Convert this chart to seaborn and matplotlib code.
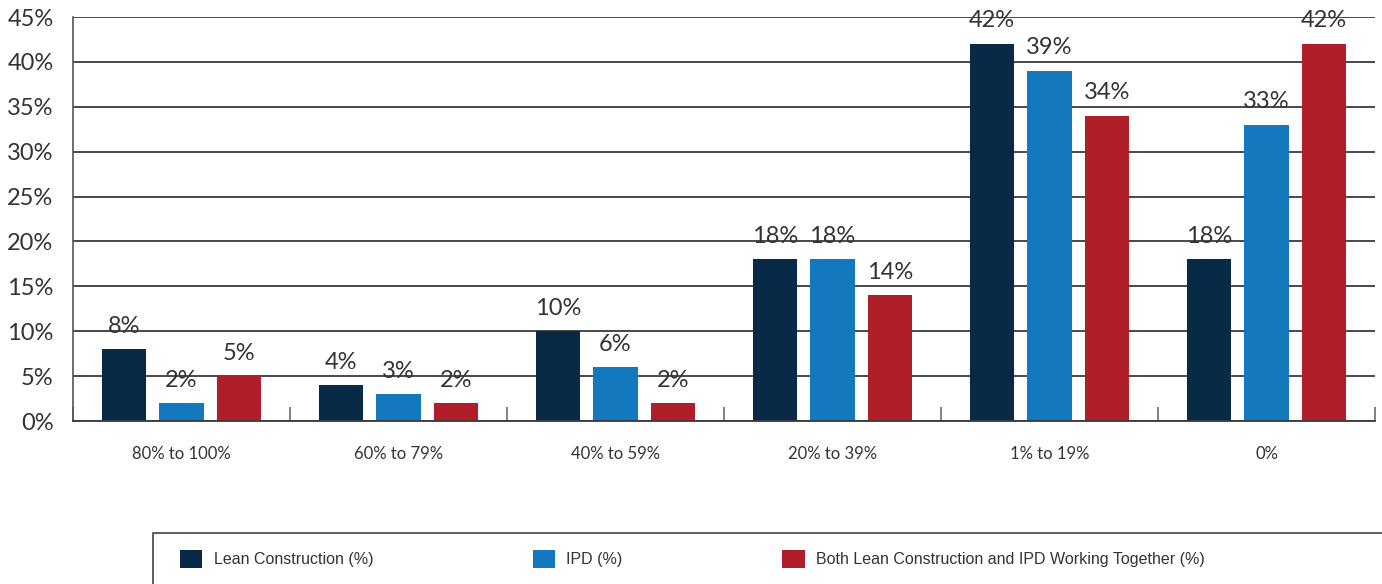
import matplotlib
matplotlib.use("Agg")
import matplotlib.pyplot as plt
from matplotlib.patches import Patch, Rectangle
import seaborn as sns
import pandas as pd
import numpy as np

categories = ["80% to 100%", "60% to 79%", "40% to 59%", "20% to 39%", "1% to 19%", "0%"]
series_names = ["Lean Construction (%)", "IPD (%)", "Both Lean Construction and IPD Working Together (%)"]
lean = [8, 4, 10, 18, 42, 18]
ipd = [2, 3, 6, 18, 39, 33]
both = [5, 2, 2, 14, 34, 42]
y_ticks = [0, 5, 10, 15, 20, 25, 30, 35, 40, 45]

colors = ["#082a47", "#1478be", "#b01f29"]

sns.set_theme(style="white")
plt.rcParams["font.family"] = ["Lato", "DejaVu Sans"]

rows = []
for name, vals in zip(series_names, [lean, ipd, both]):
    for c, v in zip(categories, vals):
        rows.append({"category": c, "series": name, "value": v})
df = pd.DataFrame(rows)

W, H = 1382, 584
fig = plt.figure(figsize=(W / 100, H / 100), dpi=100)
ax = fig.add_axes([73 / W, 1 - 421 / H, (1375 - 73) / W, (421 - 17) / H])

sns.barplot(data=df, x="category", y="value", hue="series", order=categories,
            hue_order=series_names, palette=colors, width=0.795, gap=0.234,
            saturation=1, linewidth=0, edgecolor="none", ax=ax, legend=False)

for container in ax.containers:
    ax.bar_label(container, labels=[f"{int(round(b.get_height()))}%" for b in container],
                 padding=9, fontsize=17, color="#333333")

ax.set_ylim(0, 45)
ax.set_xlim(-0.5, len(categories) - 0.5)
ax.set_yticks(y_ticks)
ax.set_yticklabels([f"{t}%" for t in y_ticks], fontsize=17, color="#333333")
ax.yaxis.grid(True, color="#3a3a3a", linewidth=1.3)
ax.set_axisbelow(True)
ax.tick_params(axis="y", length=0, pad=14)
ax.set_xticks(range(len(categories)))
ax.set_xticklabels(categories)
ax.tick_params(axis="x", which="major", length=0, pad=18, labelsize=12, labelcolor="#333333")
ax.set_xticks(np.arange(-0.5, len(categories), 1.0), minor=True)
ax.tick_params(axis="x", which="minor", bottom=True, direction="in", length=10,
               width=1.3, color="#777777")
ax.set_xlabel("")
ax.set_ylabel("")

for s in ["top", "right"]:
    ax.spines[s].set_visible(False)
ax.spines["left"].set_color("#555555")
ax.spines["left"].set_linewidth(1.2)
ax.spines["bottom"].set_color("#3a3a3a")
ax.spines["bottom"].set_linewidth(1.3)

# Legend box running off the lower right edge of the figure
fig.patches.append(Rectangle((153 / W, -0.05), (W + 20 - 153) / W, (584 - 533) / H + 0.05,
                             transform=fig.transFigure, facecolor="white",
                             edgecolor="#444444", linewidth=1.2, zorder=0))

handles = [Patch(facecolor=c, edgecolor="none") for c in colors]
leg = fig.legend(handles, series_names, loc="center left",
                 bbox_to_anchor=(180 / W, 1 - 559 / H), ncol=3, frameon=False,
                 borderpad=0, borderaxespad=0,
                 handlelength=1.4, handleheight=1.4, handletextpad=0.7, columnspacing=10,
                 prop={"family": ["Liberation Sans", "DejaVu Sans"], "size": 11.5})
for t in leg.get_texts():
    t.set_color("#333333")

fig.savefig("out.png", dpi=100)
